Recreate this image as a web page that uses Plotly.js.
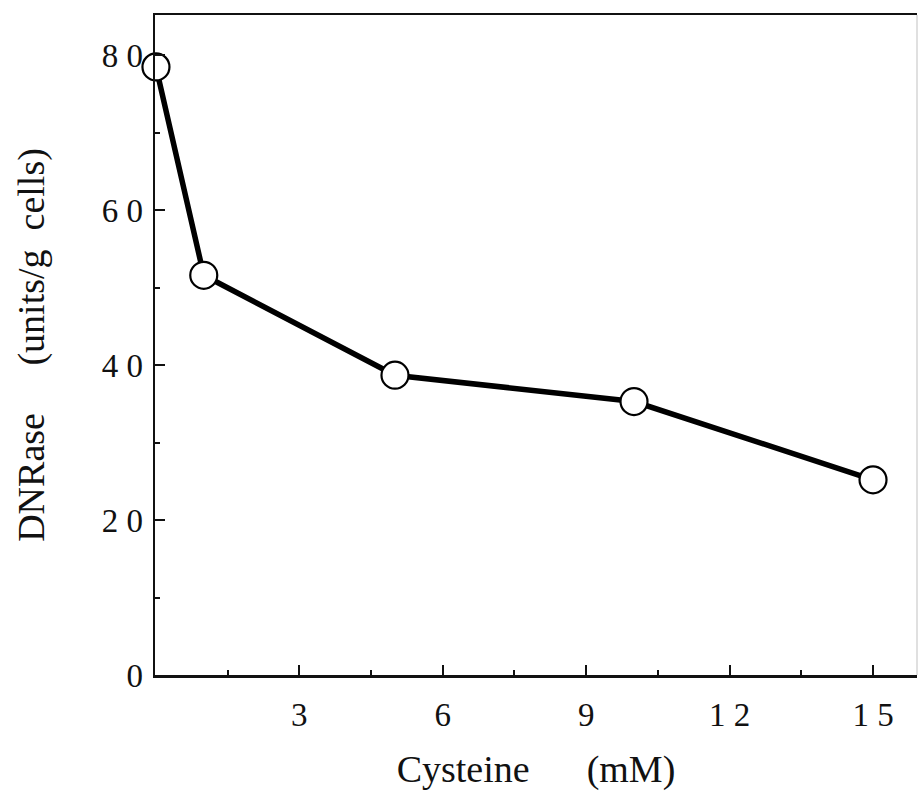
<!DOCTYPE html>
<html>
<head>
<meta charset="utf-8">
<script src="https://cdn.plot.ly/plotly-3.0.1.min.js"></script>
<style>
  html, body { margin: 0; padding: 0; background: #fff; }
  #chart { width: 919px; height: 794px; }
</style>
</head>
<body>
<div id="chart"></div>
<script>
// Cysteine concentration (mM) vs DNRase activity (units/g cells)
const cysteine = [0, 1, 5, 10, 15];
const dnrase = [78.5, 51.6, 38.7, 35.3, 25.2];

const xTickVals = [3, 6, 9, 12, 15];
const xTickText = ['3', '6', '9', '1 2', '1 5'];
const yTickVals = [0, 20, 40, 60, 80];
const yTickText = ['0', '2 0', '4 0', '6 0', '8 0'];

const serif = 'Liberation Serif, Times New Roman, serif';

const trace = {
  x: cysteine,
  y: dnrase,
  type: 'scatter',
  mode: 'lines+markers',
  line: { color: '#000', width: 5.5 },
  marker: {
    symbol: 'circle',
    size: 27,
    color: '#fff',
    line: { color: '#000', width: 2.2 }
  },
  cliponaxis: false,
  hoverinfo: 'skip'
};

const layout = {
  width: 919,
  height: 794,
  margin: { l: 155, r: 2, t: 15, b: 119 },
  paper_bgcolor: '#fff',
  plot_bgcolor: '#fff',
  showlegend: false,
  font: { family: serif, color: '#111' },
  xaxis: {
    range: [-0.02, 15.92],
    showgrid: false,
    zeroline: false,
    showline: true,
    linecolor: '#111',
    linewidth: 2.5,
    mirror: true,
    ticks: 'inside',
    ticklen: 10,
    tickwidth: 2,
    tickcolor: '#111',
    tickvals: xTickVals,
    ticktext: xTickText,
    tickfont: { family: serif, size: 33, color: '#111' },
    ticklabelstandoff: 9,
    minor: { dtick: 1.5, tick0: 0, ticks: 'inside', ticklen: 5, tickwidth: 2, tickcolor: '#111', showgrid: false },
    title: {
      text: 'Cysteine&nbsp;&nbsp;&nbsp;&nbsp;&nbsp;&nbsp;(mM)',
      font: { family: serif, size: 38, color: '#111' },
      standoff: 24
    }
  },
  yaxis: {
    range: [0, 85.2],
    showgrid: false,
    zeroline: false,
    showline: true,
    linecolor: '#111',
    linewidth: 2.5,
    mirror: false,
    ticks: 'inside',
    ticklen: 10,
    tickwidth: 2,
    tickcolor: '#111',
    tickvals: yTickVals,
    ticktext: yTickText,
    tickfont: { family: serif, size: 33, color: '#111' },
    ticklabelstandoff: 3,
    minor: { dtick: 10, tick0: 0, ticks: 'inside', ticklen: 5, tickwidth: 2, tickcolor: '#111', showgrid: false },
    title: {
      text: 'DNRase&nbsp;&nbsp;&nbsp;&nbsp;&nbsp;(units/g&nbsp;&nbsp;cells)',
      font: { family: serif, size: 38, color: '#111' },
      standoff: 46
    }
  },
  shapes: [
    {
      type: 'line', xref: 'paper', yref: 'paper',
      x0: 1, x1: 1, y0: 0, y1: 1,
      line: { color: '#d6d6d6', width: 1.5 }
    }
  ]
};

Plotly.newPlot('chart', [trace], layout, { displayModeBar: false, staticPlot: true });
</script>
</body>
</html>
